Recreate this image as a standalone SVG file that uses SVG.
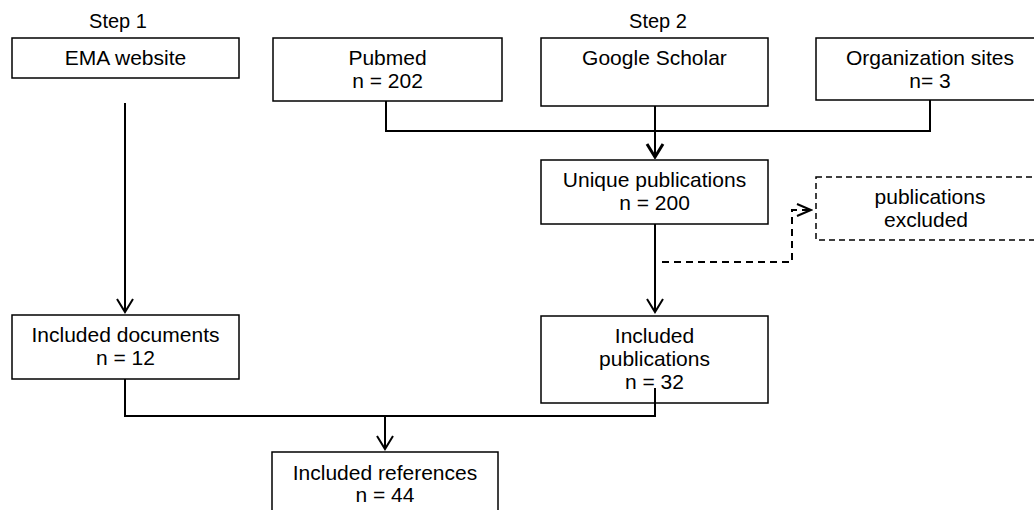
<svg xmlns="http://www.w3.org/2000/svg" width="1034" height="510" viewBox="0 0 1034 510">
<style>
  .box { fill: #fff; stroke: #000; stroke-width: 1.5; }
  .dbox { fill: #fff; stroke: #000; stroke-width: 1.5; stroke-dasharray: 6 4; }
  text { font-family: "Liberation Sans", Arial, sans-serif; font-size: 21px; fill: #000; text-anchor: middle; }
  .step { font-size: 20px; }
  .conn { fill: none; stroke: #000; stroke-width: 2; }
  .dconn { fill: none; stroke: #000; stroke-width: 2; stroke-dasharray: 7 5; }
</style>
<defs>
  <marker id="arr" viewBox="-15 -10 17 20" markerWidth="17" markerHeight="20" refX="0" refY="0" orient="auto" markerUnits="userSpaceOnUse">
    <path d="M-13,-8 L0,0 L-13,8" fill="none" stroke="#000" stroke-width="2"/>
  </marker>
  <marker id="arrBold" viewBox="-15 -10 17 20" markerWidth="17" markerHeight="20" refX="0" refY="0" orient="auto" markerUnits="userSpaceOnUse">
    <path d="M-13,-8 L0,0 L-13,8" fill="none" stroke="#000" stroke-width="3"/>
  </marker>
  <marker id="arrSmall" viewBox="-16 -8 18 16" markerWidth="18" markerHeight="16" refX="0" refY="0" orient="auto" markerUnits="userSpaceOnUse">
    <path d="M-14,-6 L0,0 L-14,6" fill="none" stroke="#000" stroke-width="2"/>
  </marker>
</defs>

<text class="step" x="118" y="28">Step 1</text>
<text class="step" x="658" y="28">Step 2</text>

<g id="ema">
  <rect class="box" x="12" y="38" width="227" height="40"/>
  <text x="125.5" y="65">EMA website</text>
</g>
<g id="pubmed">
  <rect class="box" x="273" y="38" width="229" height="63"/>
  <text x="387.5" y="65">Pubmed</text>
  <text x="387.5" y="88">n = 202</text>
</g>
<g id="scholar">
  <rect class="box" x="541" y="38" width="227" height="68"/>
  <text x="654.5" y="65">Google Scholar</text>
</g>
<g id="org">
  <rect class="box" x="816" y="38" width="228" height="62"/>
  <text x="930" y="65">Organization sites</text>
  <text x="930" y="88">n= 3</text>
</g>
<g id="unique">
  <rect class="box" x="541" y="160" width="227" height="64"/>
  <text x="654.5" y="187">Unique publications</text>
  <text x="654.5" y="210">n = 200</text>
</g>
<g id="excluded">
  <rect class="dbox" x="816" y="177" width="228" height="63"/>
  <text x="930" y="204">publications</text>
  <text x="926" y="227">excluded</text>
</g>
<g id="docs">
  <rect class="box" x="12" y="315" width="227" height="64"/>
  <text x="125.5" y="342">Included documents</text>
  <text x="125.5" y="365">n = 12</text>
</g>
<g id="pubs">
  <rect class="box" x="541" y="316" width="227" height="87"/>
  <text x="654.5" y="343">Included</text>
  <text x="654.5" y="366">publications</text>
  <text x="654.5" y="389">n = 32</text>
</g>
<g id="refs">
  <rect class="box" x="272" y="452" width="226" height="70"/>
  <text x="385" y="480">Included references</text>
  <text x="385" y="502">n = 44</text>
</g>

<g id="connectors">
  <path class="conn" d="M125 103 V312" marker-end="url(#arr)"/>
  <path class="conn" d="M386 101 V131 H930 V100"/>
  <path class="conn" d="M655 106 V157" marker-end="url(#arrBold)"/>
  <path class="conn" d="M655 224 V312" marker-end="url(#arr)"/>
  <path class="dconn" d="M662 262 H792 V210 H811" marker-end="url(#arrSmall)"/>
  <path class="conn" d="M125 379 V416 H655 V388"/>
  <path class="conn" d="M385 416 V449" marker-end="url(#arr)"/>
</g>
</svg>
